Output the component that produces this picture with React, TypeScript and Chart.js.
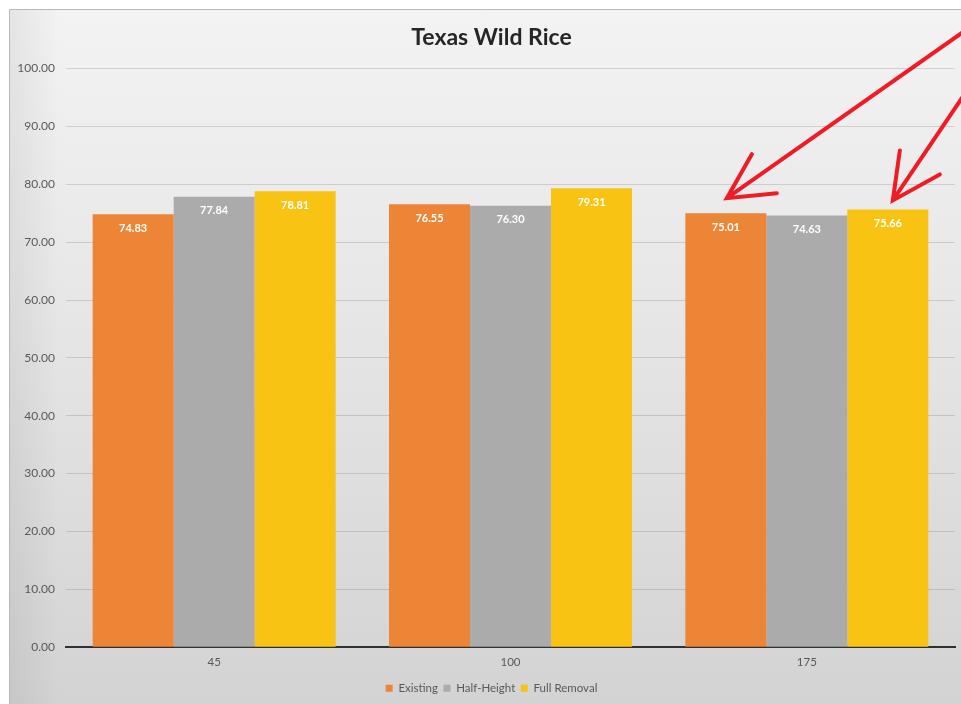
import React, { useEffect, useRef } from "react";
import { Chart, registerables } from "chart.js";

Chart.register(...registerables);

const categories = ["45", "100", "175"];
const existing = [74.83, 76.55, 75.01];
const halfHeight = [77.84, 76.3, 74.63];
const fullRemoval = [78.81, 79.31, 75.66];
const seriesNames = ["Existing", "Half-Height", "Full Removal"];
const seriesColors = ["#EC8535", "#ABABAB", "#F9C313"];
const yTicksMin = 0;
const yTicksMax = 100;
const yTickStep = 10;

const FONT = "Lato, 'Open Sans', sans-serif";

const framePlugin = {
  id: "frame",
  beforeDraw(chart: any) {
    const { ctx, width, height } = chart;
    ctx.save();
    ctx.fillStyle = "#ffffff";
    ctx.fillRect(0, 0, width, height);
    const g = ctx.createLinearGradient(0, 10, 0, height);
    g.addColorStop(0, "#f3f3f3");
    g.addColorStop(0.45, "#e6e6e6");
    g.addColorStop(1, "#d3d3d3");
    ctx.fillStyle = g;
    ctx.fillRect(10, 10, width - 10, height - 10);
    const gl = ctx.createLinearGradient(10, 0, 60, 0);
    gl.addColorStop(0, "rgba(0,0,0,0.06)");
    gl.addColorStop(1, "rgba(0,0,0,0)");
    ctx.fillStyle = gl;
    ctx.fillRect(10, 10, 50, height - 10);
    ctx.strokeStyle = "#b8b8b8";
    ctx.lineWidth = 1;
    ctx.beginPath();
    ctx.moveTo(9.5, height);
    ctx.lineTo(9.5, 9.5);
    ctx.lineTo(width, 9.5);
    ctx.stroke();
    ctx.restore();
  },
};

// The frame in the source extends past the right edge, so its title and legend sit a bit right of centre.
const shiftPlugin = {
  id: "shiftBoxes",
  afterLayout(chart: any) {
    const dx = 9;
    [chart.titleBlock, chart.legend].forEach((b: any) => {
      if (b) {
        b.left += dx;
        b.right += dx;
      }
    });
  },
};

const labelsPlugin = {
  id: "barLabels",
  afterDatasetsDraw(chart: any) {
    const { ctx } = chart;
    ctx.save();
    ctx.fillStyle = "#ffffff";
    ctx.font = "bold 11px " + FONT;
    ctx.textAlign = "center";
    ctx.textBaseline = "middle";
    chart.data.datasets.forEach((ds: any, di: number) => {
      const meta = chart.getDatasetMeta(di);
      meta.data.forEach((bar: any, i: number) => {
        ctx.fillText(Number(ds.data[i]).toFixed(2), bar.x, bar.y + 14);
      });
    });
    ctx.restore();
  },
};

const arrowsPlugin = {
  id: "arrows",
  afterDraw(chart: any) {
    const { ctx, width } = chart;
    const b1 = chart.getDatasetMeta(0).data[2];
    const b2 = chart.getDatasetMeta(2).data[2];
    if (!b1 || !b2) return;
    ctx.save();
    ctx.strokeStyle = "#ee1c25";
    ctx.lineWidth = 4;
    ctx.lineCap = "round";
    const drawArrow = (tx: number, ty: number, sx: number, sy: number, h1: [number, number], h2: [number, number]) => {
      ctx.beginPath();
      ctx.moveTo(sx, sy);
      ctx.lineTo(tx, ty);
      ctx.moveTo(tx + h1[0], ty + h1[1]);
      ctx.lineTo(tx, ty);
      ctx.lineTo(tx + h2[0], ty + h2[1]);
      ctx.stroke();
    };
    drawArrow(b1.x + 1, b1.y - 15, width + 5, 30, [25, -44], [50, -5]);
    drawArrow(b2.x + 5, b2.y - 9, width + 5, 92, [7, -50], [47, -26]);
    ctx.restore();
  },
};

export default function App() {
  const ref = useRef<HTMLCanvasElement>(null);
  useEffect(() => {
    if (!ref.current) return;
    const data = [existing, halfHeight, fullRemoval];
    const chart = new Chart(ref.current, {
      type: "bar",
      data: {
        labels: categories,
        datasets: data.map((d, i) => ({
          label: seriesNames[i],
          data: d,
          backgroundColor: seriesColors[i],
          borderWidth: 0,
          barPercentage: 1,
          categoryPercentage: 0.82,
        })),
      },
      options: {
        responsive: false,
        animation: false,
        devicePixelRatio: 1,
        layout: { padding: { left: 10, right: 6, top: 14, bottom: 0 } },
        plugins: {
          title: {
            display: true,
            text: "Texas Wild Rice",
            color: "#262626",
            font: { family: FONT, size: 23, weight: "bold" },
            padding: { top: 10, bottom: 17 },
          },
          legend: {
            position: "bottom",
            labels: {
              boxWidth: 7,
              boxHeight: 7,
              color: "#595959",
              font: { family: FONT, size: 11.5 },
              padding: 5.5,
            },
          },
          tooltip: { enabled: false },
        },
        scales: {
          x: {
            grid: { display: false, drawTicks: false },
            border: { display: true, color: "#303030", width: 2 },
            ticks: {
              color: "#595959",
              font: { family: FONT, size: 11.5 },
              padding: 8,
            },
          },
          y: {
            min: yTicksMin,
            max: yTicksMax,
            afterFit: (s: any) => {
              s.width = 56;
            },
            ticks: {
              stepSize: yTickStep,
              color: "#595959",
              padding: 11,
              font: { family: FONT, size: 12 },
              callback: (v: any) => Number(v).toFixed(2),
            },
            grid: { color: "rgba(0,0,0,0.13)", drawTicks: false },
            border: { display: false },
          },
        },
      },
      plugins: [framePlugin, shiftPlugin, labelsPlugin, arrowsPlugin],
    });
    return () => chart.destroy();
  }, []);
  return (
    <div style={{ position: "fixed", left: 0, top: 0, width: 961, height: 704 }}>
      <canvas ref={ref} width={961} height={704} style={{ display: "block" }} />
    </div>
  );
}
